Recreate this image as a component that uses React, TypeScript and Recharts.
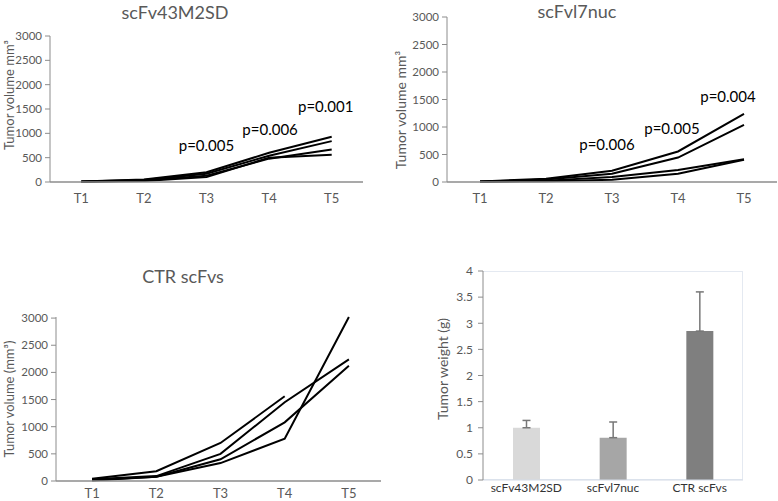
import React from 'react';
import {
  LineChart,
  Line,
  BarChart,
  Bar,
  Cell,
  ErrorBar,
  XAxis,
  YAxis,
  ReferenceDot,
} from 'recharts';

// time points on the category axis
const timePoints = ['T1', 'T2', 'T3', 'T4', 'T5'];
const volumeTicks = [0, 500, 1000, 1500, 2000, 2500, 3000];

// scFv43M2SD group, one array per mouse (mm3)
const m43a = [10, 50, 200, 600, 930];
const m43b = [8, 40, 170, 540, 840];
const m43c = [6, 30, 130, 480, 670];
const m43d = [5, 20, 100, 500, 560];
const m43Pvalues = [
  { t: 'T3', y: 740, text: 'p=0.005', dx: 0 },
  { t: 'T4', y: 1068, text: 'p=0.006', dx: 1 },
  { t: 'T5', y: 1541, text: 'p=0.001', dx: -6 },
];

// scFvl7nuc group
const l7a = [10, 60, 205, 555, 1240];
const l7b = [8, 45, 150, 445, 1040];
const l7c = [5, 25, 90, 220, 415];
const l7d = [3, 15, 40, 150, 405];
const l7Pvalues = [
  { t: 'T3', y: 673, text: 'p=0.006', dx: -5 },
  { t: 'T4', y: 964, text: 'p=0.005', dx: -6 },
  { t: 'T5', y: 1545, text: 'p=0.004', dx: -16 },
];

// CTR scFvs group (first mouse stops at T4)
const ctrA = [40, 180, 700, 1560, null];
const ctrB = [30, 90, 500, 1450, 2240];
const ctrC = [20, 80, 400, 1080, 2120];
const ctrD = [10, 80, 330, 780, 3020];

// tumor weight at the end
const groups = ['scFv43M2SD', 'scFvl7nuc', 'CTR scFvs'];
const weights = [1.0, 0.81, 2.85];
const weightSd = [0.14, 0.3, 0.75];
const barColors = ['#d9d9d9', '#a6a6a6', '#7f7f7f'];
const weightTicks = [0, 0.5, 1, 1.5, 2, 2.5, 3, 3.5, 4];

const FONT = 'Lato, "Open Sans", sans-serif';
const GREY = '#595959';
const AXIS = '#8c8c8c';

function buildRows(series: (number | null)[][]) {
  return timePoints.map((t, i) => {
    const row: any = { t };
    series.forEach((s, k) => {
      row[`m${k}`] = s[i];
    });
    return row;
  });
}

interface VolumePanelProps {
  series: (number | null)[][];
  pvalues?: { t: string; y: number; text: string; dx: number }[];
  left: number;
  top: number;
  width: number;
  height: number;
  margin: { top: number; right: number; left: number; bottom: number };
  yWidth: number;
  xHeight: number;
  xPadLeft?: number;
  tickMargin: number;
}

function VolumePanel({
  series,
  pvalues = [],
  left,
  top,
  width,
  height,
  margin,
  yWidth,
  xHeight,
  xPadLeft = 0,
  tickMargin,
}: VolumePanelProps) {
  const rows = buildRows(series);
  return (
    <div style={{ position: 'absolute', left, top }}>
      <LineChart width={width} height={height} data={rows} margin={margin}>
        <XAxis
          dataKey="t"
          scale="band"
          height={xHeight}
          tickLine={false}
          axisLine={{ stroke: AXIS, strokeWidth: 1.3 }}
          tick={{ fontSize: 13, fill: GREY, fontFamily: FONT }}
          tickMargin={tickMargin}
          padding={{ left: xPadLeft, right: 0 }}
          interval={0}
        />
        <YAxis
          width={yWidth}
          domain={[0, 3000]}
          ticks={volumeTicks}
          interval={0}
          tickSize={5}
          tickMargin={3}
          tickLine={{ stroke: AXIS }}
          axisLine={{ stroke: AXIS }}
          tick={{ fontSize: 11.5, fill: GREY, fontFamily: FONT }}
        />
        {series.map((_, k) => (
          <Line
            key={k}
            type="linear"
            dataKey={`m${k}`}
            stroke="#000"
            strokeWidth={2}
            dot={false}
            isAnimationActive={false}
          />
        ))}
        {pvalues.map((p) => (
          <ReferenceDot
            key={p.text + p.t}
            x={p.t}
            y={p.y}
            r={0}
            fill="none"
            stroke="none"
            label={{
              value: p.text,
              position: 'center',
              fill: '#000',
              fontSize: 15,
              fontFamily: FONT,
              dx: p.dx,
            }}
          />
        ))}
      </LineChart>
    </div>
  );
}

function Title({ text, x, y, size = 18 }: { text: string; x: number; y: number; size?: number }) {
  return (
    <div
      style={{
        position: 'absolute',
        left: x - 100,
        top: y - 12,
        width: 200,
        height: 24,
        textAlign: 'center',
        fontSize: size,
        lineHeight: '24px',
        color: GREY,
        fontFamily: FONT,
        whiteSpace: 'nowrap',
      }}
    >
      {text}
    </div>
  );
}

function VerticalTitle({ text, x, y, size = 13 }: { text: string; x: number; y: number; size?: number }) {
  return (
    <div
      style={{
        position: 'absolute',
        left: x - 100,
        top: y - 10,
        width: 200,
        height: 20,
        lineHeight: '20px',
        textAlign: 'center',
        fontSize: size,
        color: GREY,
        fontFamily: FONT,
        whiteSpace: 'nowrap',
        transform: 'rotate(-90deg)',
      }}
    >
      {text}
    </div>
  );
}

export default function App() {
  const barRows = groups.map((g, i) => ({
    group: g,
    weight: weights[i],
    err: [0, weightSd[i]],
  }));

  return (
    <div
      style={{
        position: 'absolute',
        left: 0,
        top: 0,
        width: 778,
        height: 501,
        background: '#fff',
        overflow: 'hidden',
        fontFamily: FONT,
      }}
    >
      {/* top left: scFv43M2SD */}
      <Title text="scFv43M2SD" x={175} y={12} />
      <VerticalTitle text="Tumor volume mm³" x={9} y={95} size={13} />
      <VolumePanel
        series={[m43a, m43b, m43c, m43d]}
        pvalues={m43Pvalues}
        left={0}
        top={0}
        width={368}
        height={215}
        margin={{ top: 36, right: 5, left: 0, bottom: 0 }}
        yWidth={50}
        xHeight={33}
        tickMargin={6}
      />

      {/* top right: scFvl7nuc */}
      <Title text="scFvl7nuc" x={577} y={11} />
      <VerticalTitle text="Tumor volume mm³" x={401} y={110} size={14} />
      <VolumePanel
        series={[l7a, l7b, l7c, l7d]}
        pvalues={l7Pvalues}
        left={397}
        top={0}
        width={381}
        height={215}
        margin={{ top: 17, right: 1, left: 0, bottom: 0 }}
        yWidth={50}
        xHeight={33}
        tickMargin={6}
      />

      {/* bottom left: CTR scFvs */}
      <Title text="CTR scFvs" x={183} y={276} />
      <VerticalTitle text="Tumor volume (mm³)" x={9} y={399} size={13} />
      <VolumePanel
        series={[ctrA, ctrB, ctrC, ctrD]}
        left={0}
        top={290}
        width={390}
        height={211}
        margin={{ top: 27, right: 9, left: 0, bottom: 0 }}
        yWidth={56}
        xHeight={20}
        xPadLeft={4}
        tickMargin={2}
      />

      {/* bottom right: tumor weight bars */}
      <div
        style={{
          position: 'absolute',
          left: 483,
          top: 271,
          width: 260,
          height: 209,
          border: '1px solid #e4e9f1',
          borderLeft: 'none',
          boxSizing: 'border-box',
        }}
      />
      <VerticalTitle text="Tumor weight (g)" x={443} y={369} size={14} />
      <div style={{ position: 'absolute', left: 420, top: 250 }}>
        <BarChart
          width={333}
          height={251}
          data={barRows}
          margin={{ top: 21, right: 10, left: 0, bottom: 0 }}
        >
          <XAxis
            dataKey="group"
            height={21}
            tickLine={false}
            tickSize={0}
            tickMargin={3}
            axisLine={{ stroke: '#d3dae6' }}
            tick={{ fontSize: 12, fill: '#333', fontFamily: FONT }}
            interval={0}
          />
          <YAxis
            width={63}
            domain={[0, 4]}
            ticks={weightTicks}
            interval={0}
            tickSize={5}
            tickMargin={5}
            tickLine={{ stroke: AXIS }}
            axisLine={{ stroke: AXIS }}
            tick={{ fontSize: 12, fill: GREY, fontFamily: FONT }}
          />
          <Bar dataKey="weight" barSize={27} isAnimationActive={false}>
            {barRows.map((r, i) => (
              <Cell key={r.group} fill={barColors[i]} />
            ))}
            <ErrorBar
              dataKey="err"
              direction="y"
              width={4}
              stroke="#777"
              strokeWidth={1.5}
              isAnimationActive={false}
            />
          </Bar>
        </BarChart>
      </div>
    </div>
  );
}
